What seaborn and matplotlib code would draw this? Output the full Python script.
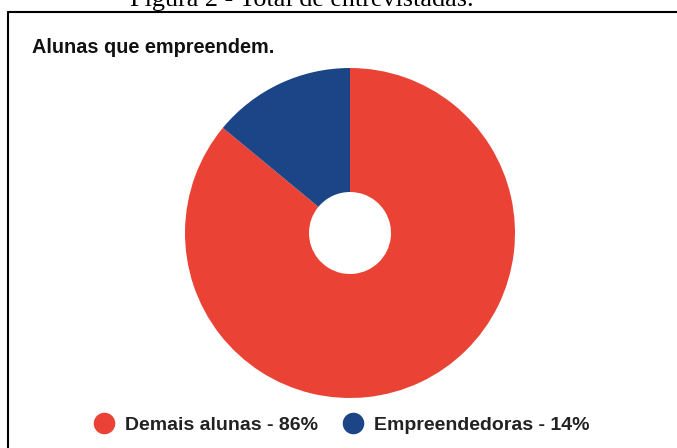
import matplotlib
matplotlib.use("Agg")
import matplotlib.pyplot as plt
from matplotlib.lines import Line2D
import seaborn as sns

categories = ["Demais alunas", "Empreendedoras"]
values = [86, 14]
colors = ["#EA4335", "#1C4587"]
title = "Alunas que empreendem."
caption = "Figura 2 - Total de entrevistadas."

sns.set_theme(style="white")
plt.rcParams['font.family'] = ['Liberation Sans', 'DejaVu Sans']

W, H = 677, 448
fig = plt.figure(figsize=(W / 100, H / 100), dpi=100)
fig.patch.set_facecolor("white")

def px(x, y):
    return x / W, 1 - y / H

# pie axes: center (350, 233), radius 165 px
cx, cy, r = 350, 233, 165
ax = fig.add_axes([(cx - r) / W, (H - cy - r) / H, 2 * r / W, 2 * r / H])
ax.pie(values, colors=colors, startangle=90, counterclock=False, radius=1.0,
       wedgeprops=dict(width=1 - 41 / 165, linewidth=0, edgecolor="none"))
ax.set_xlim(-1, 1)
ax.set_ylim(-1, 1)
ax.set_aspect("equal")
ax.axis("off")

# frame lines
fig.add_artist(Line2D([8 / W, 8 / W], [0, 1 - 12.5 / H], transform=fig.transFigure,
                      color="black", lw=1.5))
fig.add_artist(Line2D([8 / W, 1], [1 - 12.5 / H, 1 - 12.5 / H], transform=fig.transFigure,
                      color="black", lw=1.5))

# caption (cut off at top)
x0, y0 = px(130, 6)
fig.text(x0, y0, caption, family=['Liberation Serif', 'DejaVu Serif'], fontsize=18.8,
         color="black", ha="left", va="baseline")

# title
x0, y0 = px(32, 53)
fig.text(x0, y0, title, fontsize=14.3, fontweight="bold", color="#111111",
         ha="left", va="baseline")

# legend
labels = [f"{c} - {v}%" for c, v in zip(categories, values)]
handles = [Line2D([], [], marker="o", linestyle="none", markersize=14.5,
                  markerfacecolor=col, markeredgecolor=col) for col in colors]
leg = fig.legend(handles, labels, loc="center", bbox_to_anchor=px(342, 425),
                 ncol=2, frameon=False, handletextpad=0.6,
                 columnspacing=1.3, handlelength=1.0,
                 prop=dict(weight="bold", size=14))
for t in leg.get_texts():
    t.set_color("#222222")

fig.savefig("out.png", dpi=100, facecolor="white")
